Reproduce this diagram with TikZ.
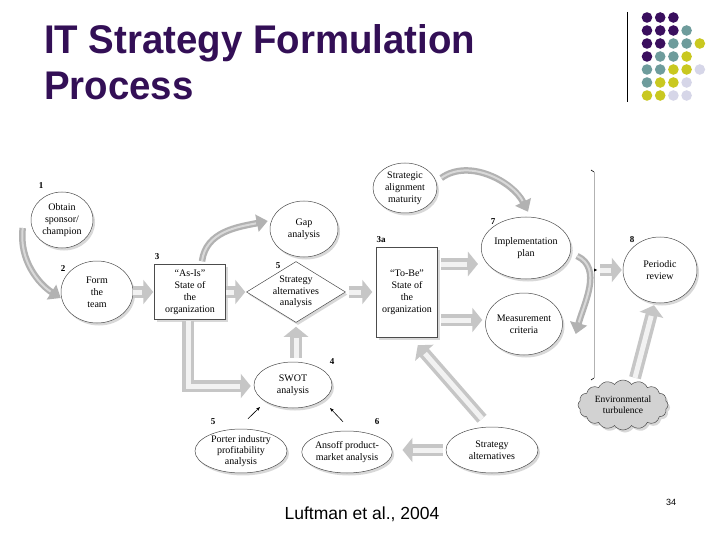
\documentclass[tikz,border=0pt]{standalone}
\usepackage{fontspec}
\setmainfont{Liberation Serif}
\newfontfamily\arialf{Liberation Sans}
\newfontfamily\titlef{Liberation Sans}[FakeStretch=0.96]
\usetikzlibrary{shapes.geometric,shapes.symbols,shadows,arrows.meta,calc}
\definecolor{ttl}{HTML}{330F56}
\definecolor{dpur}{HTML}{3A0F5E}
\definecolor{dteal}{HTML}{6E9C9C}
\definecolor{dyel}{HTML}{C9C820}
\definecolor{dlav}{HTML}{D6D6E8}
\tikzset{
  shad/.style={drop shadow={shadow xshift=2pt, shadow yshift=-2.5pt, opacity=0.3}},
  ell/.style={ellipse, draw=black!70, line width=0.5pt, fill=white, inner sep=0pt,
    align=center, font=\fontsize{10}{12}\selectfont, shad},
  boxn/.style={rectangle, draw=black!70, line width=0.5pt, fill=white, inner sep=0pt,
    align=center, font=\fontsize{10}{12}\selectfont, shad},
  num/.style={font=\bfseries\fontsize{9}{9}\selectfont, inner sep=0pt},
  blk/.style={draw=gray!45, line width=12pt, line join=miter,
    -{Triangle[length=10pt,width=24pt]},
    postaction={draw=gray!10, line width=5pt, -, shorten >=11pt}},
  crv/.style={draw=gray!60, line width=6.5pt, -{Triangle[length=11pt,width=17pt]},
    postaction={draw=gray!30, line width=2pt, -, shorten >=12pt}},
  thinarr/.style={draw=black, line width=0.6pt, -{Stealth[length=4pt,width=3pt]}}
}
\begin{document}
\begin{tikzpicture}[x=1pt,y=-1pt]
\useasboundingbox (0,0) rectangle (720,540);
\fill[white] (0,0) rectangle (720,540);
% title
\node[anchor=base west, inner sep=0pt, text=ttl, font=\titlef\bfseries\fontsize{40}{40}\selectfont] (t1) at (44,54) {IT Strategy Formulation};
\node[anchor=base west, inner sep=0pt, text=ttl, font=\titlef\bfseries\fontsize{40}{40}\selectfont] (t2) at (44,100) {Process};
% decoration
\draw[black, line width=0.8pt] (627,12) -- (627,102);
\foreach \r/\row in {0/{dpur,dpur,dpur},1/{dpur,dpur,dpur,dteal},2/{dpur,dpur,dteal,dteal,dyel},3/{dpur,dteal,dteal,dyel},4/{dteal,dteal,dyel,dyel,dlav},5/{dteal,dyel,dyel,dlav},6/{dyel,dyel,dlav,dlav}}{
  \foreach \col [count=\c from 0] in \row {
    \fill[\col] (647+13.2*\c, 17.5+13*\r) circle[radius=5.3pt];
  }
}
% nodes
\node[ell, minimum width=62pt, minimum height=56pt] (obtain) at (62,220) {Obtain\\sponsor/\\champion};
\node[ell, minimum width=72pt, minimum height=62pt] (form) at (97,292) {Form\\the\\team};
\node[boxn, minimum width=71pt, minimum height=55pt] (asis) at (190,292) {“As-Is”\\State of\\the\\organization};
\node[ell, minimum width=68pt, minimum height=56pt] (gap) at (304,229) {Gap\\analysis};
\node[diamond, aspect=1.6, draw=black!70, line width=0.5pt, fill=white, inner sep=0pt, align=center,
  font=\fontsize{10}{11.5}\selectfont, shad, minimum width=99pt, minimum height=61pt] (diam) at (296,292) {Strategy\\alternatives\\analysis};
\node[ell, minimum width=64pt, minimum height=50pt] (sam) at (405,188) {Strategic\\alignment\\maturity};
\node[boxn, minimum width=61pt, minimum height=90pt] (tobe) at (407,292) {“To-Be”\\State of\\the\\organization};
\node[ell, minimum width=68pt, minimum height=62pt] (impl) at (526,248) {Implementation\\plan};
\node[ell, minimum width=70pt, minimum height=62pt] (meas) at (524,324) {Measurement\\criteria};
\node[ell, minimum width=74pt, minimum height=66pt] (per) at (660,270) {Periodic\\review};
\node[cloud, cloud puffs=16, cloud puff arc=110, aspect=2.2, draw=black!70, line width=0.5pt, fill=gray!35,
  inner sep=0pt, align=center, font=\fontsize{9.5}{11}\selectfont, shad, minimum width=90pt, minimum height=50pt] (env) at (623,405) {Environmental\\turbulence};
\node[ell, minimum width=78pt, minimum height=46pt] (swot) at (293,385) {SWOT\\analysis};
\node[ell, minimum width=92pt, minimum height=42pt, font=\fontsize{10}{11}\selectfont] (porter) at (241,451) {Porter industry\\profitability\\analysis};
\node[ell, minimum width=88pt, minimum height=42pt] (ansoff) at (347,452) {Ansoff product-\\market analysis};
\node[ell, minimum width=92pt, minimum height=46pt] (stalt) at (492,450) {Strategy\\alternatives};
% numbers
\node[num] (n1) at (41,186) {1};
\node[num] (n2) at (63,269) {2};
\node[num] (n3) at (157,257) {3};
\node[num] (n5a) at (278,266) {5};
\node[num] (n3a) at (381,240) {3a};
\node[num] (n7) at (493,222) {7};
\node[num] (n8) at (632,240) {8};
\node[num] (n4) at (332,362) {4};
\node[num] (n5b) at (213,422) {5};
\node[num] (n6) at (377,422) {6};
% bracket
\coordinate (brt) at (594,172);
\coordinate (brb) at (594,378);
\coordinate (brm) at (594,270);
\draw[gray!60, line width=0.8pt] (brt) -- (brb);
\draw[black, line width=0.6pt] (brt) -- ++(-3,-2);
\draw[black, line width=0.6pt] (brb) -- ++(-3,2);
\fill[black] ($(brm)+(0,-1.5)$) -- ($(brm)+(3,0)$) -- ($(brm)+(0,1.5)$) -- cycle;
% curved arrows
\draw[crv] ($(obtain.west)+(-8,8)$) .. controls +(-4,32) and +(-22,-14) .. ($(form.west)+(0,6)$);
\draw[crv] ($(asis.north)+(12,-3)$) .. controls +(4,-30) and +(-30,6) .. ($(gap.west)+(-2,-8)$);
\draw[crv] ($(sam.east)+(4,-10)$) .. controls +(28,-20) and +(-15,-30) .. ($(impl.north)+(2,-5)$);
\draw[crv] ($(impl.east)+(6,8)$) .. controls +(26,12) and +(8,-30) .. ($(meas.east)+(13,10)$);
% block arrows
\draw[blk] (form.east) -- ($(asis.west)+(-1,0)$);
\draw[blk] (asis.east) -- ($(diam.west)+(-1,0)$);
\draw[blk] ($(diam.east)+(3,0)$) -- ($(tobe.west)+(-4,0)$);
\draw[blk] ($(tobe.east)+(3,-28)$) -- ($(impl.west)+(-3,16)$);
\draw[blk] ($(tobe.east)+(3,28)$) -- ($(meas.west)+(-3,-4)$);
\draw[blk] ($(brm)+(6,0)$) -- ($(per.west)+(-1,0)$);
\draw[blk] ($(swot.north)+(3,-4)$) -- ($(diam.south)+(0,4)$);
\draw[blk] ($(asis.south)+(-2,1)$) |- ($(swot.west)+(-3,1)$);
\draw[blk] ($(env.north)+(12,-2)$) -- ($(per.south)+(-6,2)$);
\draw[blk] ($(stalt.west)+(-3,0)$) -- ($(ansoff.east)+(10,-2)$);
\draw[blk] ($(stalt.north)+(-10,-8)$) -- ($(tobe.south east)+(-20,8)$);
% thin arrows
\draw[thinarr] ($(porter.north)+(7,-10)$) -- ($(swot.center)+(-33,22)$);
\draw[thinarr] ($(ansoff.north)+(-4,-9)$) -- ($(swot.center)+(37,23)$);
% footer
\node[anchor=base, inner sep=0pt, font=\arialf\fontsize{17.5}{18}\selectfont] (cite) at (362,519) {Luftman et al., 2004};
\node[anchor=base, inner sep=0pt, font=\arialf\fontsize{9}{9}\selectfont] (pg) at (671,505) {34};
\end{tikzpicture}
\end{document}
